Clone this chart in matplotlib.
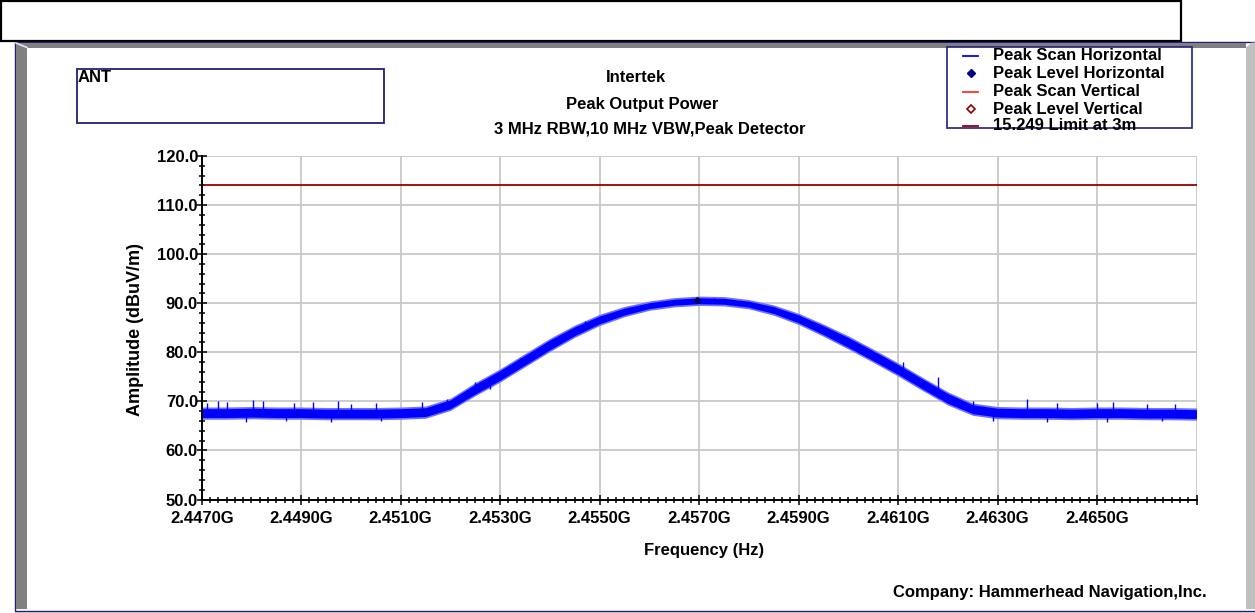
import numpy as np
import matplotlib
matplotlib.use("Agg")
import matplotlib.pyplot as plt
from matplotlib.patches import Rectangle, Polygon
from matplotlib.lines import Line2D
from matplotlib.ticker import FixedLocator, MultipleLocator, FuncFormatter

plt.rcParams['font.family'] = ['Liberation Sans', 'DejaVu Sans']
plt.rcParams['font.weight'] = 'bold'

# Peak scan (horizontal), GHz / dBuV/m
freq_ghz = [2.4470, 2.4475, 2.4480, 2.4485, 2.4490, 2.4495, 2.4500, 2.4505,
            2.4510, 2.4515, 2.4520, 2.4525, 2.4530, 2.4535, 2.4540, 2.4545,
            2.4550, 2.4555, 2.4560, 2.4565, 2.4570, 2.4575, 2.4580, 2.4585,
            2.4590, 2.4595, 2.4600, 2.4605, 2.4610, 2.4615, 2.4620, 2.4625,
            2.4630, 2.4635, 2.4640, 2.4645, 2.4650, 2.4655, 2.4660, 2.4665,
            2.4670]
level_db = [67.6, 67.6, 67.7, 67.6, 67.6, 67.5, 67.5, 67.5,
            67.6, 67.8, 69.4, 72.5, 75.3, 78.4, 81.5, 84.3,
            86.6, 88.3, 89.5, 90.2, 90.5, 90.4, 89.8, 88.6,
            86.8, 84.5, 82.0, 79.3, 76.5, 73.5, 70.6, 68.4,
            67.7, 67.6, 67.6, 67.5, 67.6, 67.6, 67.5, 67.5,
            67.4]
# half thickness of the noisy band
band_db = [0.9, 0.9, 0.9, 0.9, 0.9, 0.9, 0.9, 0.9,
           0.9, 0.9, 0.9, 1.0, 1.0, 1.0, 1.0, 0.9,
           0.8, 0.7, 0.6, 0.6, 0.6, 0.6, 0.6, 0.7,
           0.8, 0.9, 1.0, 1.0, 1.0, 1.0, 1.0, 0.9,
           0.9, 0.9, 0.9, 0.9, 0.9, 0.9, 0.9, 0.9,
           0.9]

# noise spikes / dips seen on the trace
spike_ghz = [2.44733, 2.44750, 2.44803, 2.44824, 2.44885, 2.44924, 2.44974,
             2.45050, 2.45142, 2.45193, 2.46360, 2.46420, 2.46499, 2.46532,
             2.46600, 2.46657, 2.44790, 2.44870, 2.44960, 2.45060, 2.46290,
             2.46400, 2.46520, 2.46630, 2.45250, 2.45340, 2.45470, 2.45730,
             2.45900, 2.46110, 2.46180, 2.44710, 2.45000, 2.45280, 2.46250]
spike_db = [70.0, 69.8, 70.3, 70.0, 69.6, 69.8, 70.0,
            69.6, 69.8, 70.5, 70.5, 69.6, 69.7, 69.9,
            69.5, 69.5, 65.8, 65.9, 65.8, 65.9, 65.9,
            65.8, 65.8, 66.0, 74.0, 78.8, 86.3, 91.0,
            87.6, 78.0, 75.0, 69.6, 69.4, 72.6, 70.0]

peak_ghz = [2.45695]
peak_db = [90.6]
limit_db = 114.0

W, H = 1255, 613


def fx(x):
    return x / W


def fy(y):
    return 1 - y / H


fig = plt.figure(figsize=(W / 100, H / 100), dpi=100)
fig.patch.set_facecolor('white')

navy = '#20207a'

# top empty box
fig.add_artist(Rectangle((fx(0.8), fy(40.5)), fx(1181) - fx(0.8), fy(0.8) - fy(40.5),
                         transform=fig.transFigure, facecolor='white',
                         edgecolor='black', lw=1.6, zorder=-5))

# bevelled frame
fig.add_artist(Rectangle((fx(15), fy(611)), fx(1256) - fx(15), fy(41.5) - fy(611),
                         transform=fig.transFigure, facecolor='white',
                         edgecolor=navy, lw=1.0, zorder=-5))
fig.add_artist(Polygon([(fx(16), fy(42.5)), (fx(1246), fy(42.5)), (fx(1246), fy(47.5)),
                        (fx(27), fy(47.5)), (fx(27), fy(609)), (fx(16), fy(609))],
                       closed=True, transform=fig.transFigure,
                       facecolor='#808080', edgecolor='none', zorder=-4))
fig.add_artist(Polygon([(fx(1246), fy(47.5)), (fx(1252), fy(42.5)), (fx(1256), fy(42.5)),
                        (fx(1256), fy(609)), (fx(1246), fy(609))],
                       closed=True, transform=fig.transFigure,
                       facecolor='#c0c0c0', edgecolor='none', zorder=-4))
fig.add_artist(Line2D([fx(16), fx(27)], [fy(43), fy(47.5)], transform=fig.transFigure,
                      color='#e8e8e8', lw=1.2, zorder=-3))
fig.add_artist(Rectangle((fx(15), fy(613)), fx(1256) - fx(15), fy(611.5) - fy(613),
                         transform=fig.transFigure, facecolor='#c0c0c0',
                         edgecolor='none', zorder=-4))

# ANT box
fig.add_artist(Rectangle((fx(76.7), fy(123)), fx(384) - fx(76.7), fy(69.3) - fy(123),
                         transform=fig.transFigure, facecolor='white',
                         edgecolor=navy, lw=1.3, zorder=-2))
fig.text(fx(77.5), fy(69.5), 'ANT', ha='left', va='top', fontsize=12, weight='bold')

# titles
fig.text(fx(636), fy(78), 'Intertek', ha='center', va='center', fontsize=12, weight='bold')
fig.text(fx(642), fy(105), 'Peak Output Power', ha='center', va='center',
         fontsize=12, weight='bold')
fig.text(fx(650), fy(129), '3 MHz RBW,10 MHz VBW,Peak Detector', ha='center',
         va='center', fontsize=12, weight='bold')

# legend
fig.add_artist(Rectangle((fx(947.3), fy(128.3)), fx(1192.3) - fx(947.3),
                         fy(46.7) - fy(128.3), transform=fig.transFigure,
                         facecolor='white', edgecolor=navy, lw=1.2, zorder=-2))
leg_y = [55.7, 73.3, 91.7, 109.0, 126.0]
leg_txt = ['Peak Scan Horizontal', 'Peak Level Horizontal', 'Peak Scan Vertical',
           'Peak Level Vertical', '15.249 Limit at 3m']
for i, (yy, tt) in enumerate(zip(leg_y, leg_txt)):
    if i in (0, 2, 4):
        col = ['#0000ff', None, '#ff3030', None, '#8b0000'][i]
        fig.add_artist(Line2D([fx(963), fx(978)], [fy(yy), fy(yy)],
                              transform=fig.transFigure, color=col, lw=1.3))
    elif i == 1:
        fig.add_artist(Line2D([fx(970.5)], [fy(yy)], transform=fig.transFigure,
                              marker='D', ms=4, color='#000080', ls='none'))
    else:
        fig.add_artist(Line2D([fx(970.5)], [fy(yy)], transform=fig.transFigure,
                              marker='D', ms=4, mfc='white', mec='#8b0000',
                              mew=1.2, ls='none'))
    fig.text(fx(993), fy(yy), tt, ha='left', va='center', fontsize=12, weight='bold')

# axes
ax = fig.add_axes([fx(201.7), fy(499.5), fx(1196.5) - fx(201.7), fy(156) - fy(499.5)])
ax.set_zorder(10)
ax.set_facecolor('none')
ax.set_xlim(2.447, 2.467)
ax.set_ylim(50, 120)

xmaj = [2.447 + 0.002 * k for k in range(11)]
ax.xaxis.set_major_locator(FixedLocator(xmaj))
ax.xaxis.set_minor_locator(FixedLocator([2.447 + 0.002 * k / 12 for k in range(121)]))
ax.xaxis.set_major_formatter(FuncFormatter(
    lambda v, p: '' if v > 2.4665 else f'{v:.4f}G'))
ax.yaxis.set_major_locator(MultipleLocator(10))
ax.yaxis.set_minor_locator(MultipleLocator(2))
ax.yaxis.set_major_formatter(FuncFormatter(lambda v, p: f'{v:.1f}'))

ax.tick_params(axis='both', which='both', direction='inout', width=1.1, colors='black')
ax.tick_params(axis='x', which='major', length=7.2, pad=5, labelsize=12)
ax.tick_params(axis='x', which='minor', length=4.5)
ax.tick_params(axis='y', which='major', length=6.5, pad=-0.5, labelsize=12)
ax.tick_params(axis='y', which='minor', length=4.5)
for lab in ax.get_xticklabels() + ax.get_yticklabels():
    lab.set_fontweight('bold')

for s in ('top', 'right'):
    ax.spines[s].set_visible(False)
for s in ('left', 'bottom'):
    ax.spines[s].set_linewidth(1.4)
    ax.spines[s].set_zorder(5)

ax.grid(True, which='major', color='#c8c8c8', lw=1.3)
ax.set_axisbelow(True)

# limit line
ax.axhline(limit_db, color='#990000', lw=1.3, zorder=2)

# trace band
f = np.array(freq_ghz)
lv = np.array(level_db)
bd = np.array(band_db)
ax.fill_between(f, lv - bd - 0.35, lv + bd + 0.35, color='#7070ff', lw=0, zorder=3)
ax.fill_between(f, lv - bd, lv + bd, color='#0000ff', lw=0, zorder=3)
ax.plot(f, lv, color='#0000ff', lw=2.5, zorder=3, solid_joinstyle='round')
base = np.interp(spike_ghz, f, lv)
ax.vlines(spike_ghz, base, spike_db, color='#0000ff', lw=1.0, zorder=3)

# peak marker
ax.plot(peak_ghz, peak_db, ls='none', marker='D', ms=3, color='#000050', zorder=4)

fig.text(fx(135), fy(329), 'Amplitude (dBuV/m)', rotation=90, ha='center', va='center',
         fontsize=13, weight='bold')
fig.text(fx(704), fy(550), 'Frequency (Hz)', ha='center', va='center',
         fontsize=12, weight='bold')
fig.text(fx(1207), fy(592), 'Company: Hammerhead Navigation,Inc.', ha='right',
         va='center', fontsize=12, weight='bold')

fig.savefig('out.png', dpi=100)
